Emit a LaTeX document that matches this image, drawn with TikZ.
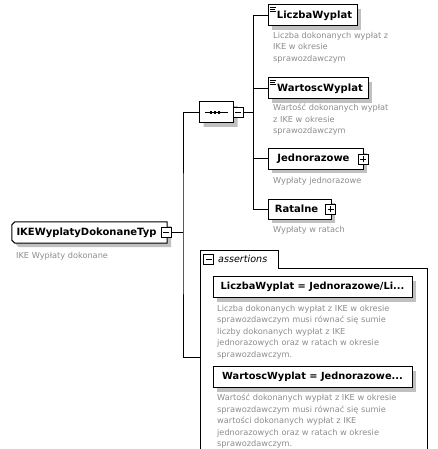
\documentclass[tikz,border=0pt]{standalone}
\usepackage{fontspec}
\setmainfont{DejaVu Sans}
\usetikzlibrary{shapes.misc,shadows,backgrounds}
\definecolor{desc}{RGB}{140,140,140}
\definecolor{shade}{RGB}{192,192,192}

\tikzset{
  label/.style={inner sep=0pt, minimum height=21pt, font=\bfseries\fontsize{10}{12}\selectfont},
  box/.style={label, draw, fill=white, line width=1pt, dshadow},
  dshadow/.style={drop shadow={shadow xshift=4pt, shadow yshift=-4pt, fill=shade, opacity=1}},
  note/.style={anchor=north west, inner sep=0pt, align=left, text=desc,
    font=\fontsize{8.2}{11.5}\selectfont},
  tog/.style={draw, fill=white, line width=0.8pt, minimum size=10pt, inner sep=0pt},
  minus/.style={tog, path picture={
    \draw ([xshift=2pt]path picture bounding box.west) -- ([xshift=-2pt]path picture bounding box.east);}},
  plus/.style={tog, path picture={
    \draw ([xshift=2pt]path picture bounding box.west) -- ([xshift=-2pt]path picture bounding box.east);
    \draw ([yshift=2pt]path picture bounding box.south) -- ([yshift=-2pt]path picture bounding box.north);}},
  simple/.style={line width=0.7pt}
}

\begin{document}
\begin{tikzpicture}[x=1pt,y=-1pt]
 \useasboundingbox (0,0) rectangle (438,449);

 % root type
 \node[label, minimum width=155pt, text width=146pt, align=left] (root) at (89.5,232.5) {IKEWyplatyDokonaneTyp};
 \begin{scope}[on background layer]
  \draw[line width=1pt, fill=white, dshadow] (root.north east) -- ([xshift=3pt]root.north west) -- ([yshift=-3pt]root.north west)
    -- ([yshift=3pt]root.south west) -- ([xshift=3pt]root.south west) -- (root.south east) -- cycle;
 \end{scope}
 \node[minus] (rootm) at (166,232.5) {};
 \node[note] (rootd) at (16,252) {IKE Wypłaty dokonane};

 % sequence
 \node[box, chamfered rectangle, chamfered rectangle sep=4pt, minimum width=34pt, minimum height=21pt] (seq) at (216.5,112.5) {};
 \draw[line width=0.8pt] ([xshift=6pt]seq.west) -- ([xshift=-6pt]seq.east);
 \foreach \x in {211,215,219}
   \fill (\x-1.2,111.3) rectangle (\x+1.2,113.7);
 \node[minus] (seqm) at (238,112.5) {};

 % children
 \node[box, minimum width=89pt] (liczba) at (312.5,15.5) {\hspace*{4pt}LiczbaWyplat};
 \node[note] (liczbad) at (273,32) {Liczba dokonanych wypłat z\\IKE w okresie\\sprawozdawczym};
 \node[box, minimum width=100pt] (wartosc) at (318,88.5) {\hspace*{4pt}WartoscWyplat};
 \node[note] (wartoscd) at (273,104) {Wartość dokonanych wypłat\\z IKE w okresie\\sprawozdawczym};
 \node[box, minimum width=95pt, minimum height=20pt] (jedn) at (315.5,159) {Jednorazowe\hspace*{4pt}};
 \node[plus] (jednp) at (363,159) {};
 \node[note] (jednd) at (273,177) {Wypłaty jednorazowe};
 \node[box, minimum width=63pt, minimum height=20pt] (ratalne) at (299.5,209) {Ratalne\hspace*{6pt}};
 \node[plus] (ratalnep) at (330.5,209) {};
 \node[note] (ratalned) at (273,226) {Wypłaty w ratach};

 % simple content marks
 \foreach \n in {liczba,wartosc}{
   \draw[simple] ([xshift=2pt,yshift=-2.5pt]\n.north west) -- ++(6,0);
   \draw[simple] ([xshift=2pt,yshift=-4.5pt]\n.north west) -- ++(5,0);
   \draw[simple] ([xshift=2pt,yshift=-6.5pt]\n.north west) -- ++(6,0);
 }

 % assertions
 \draw[line width=1pt] (200,455) -- (200,250) -- (278,250) -- (278,268) -- (427,268) -- (427,455);
 \node[minus] (asrm) at (208.5,259) {};
 \node[anchor=west, inner sep=0pt, font=\itshape\fontsize{9.6}{12}\selectfont] (asrt) at (218,259) {assertions};
 \node[box, minimum width=199pt, font=\bfseries\fontsize{9.8}{12}\selectfont] (asr1) at (312.5,287) {LiczbaWyplat = Jednorazowe/Li...};
 \node[note] (asr1d) at (217,305) {Liczba dokonanych wypłat z IKE w okresie\\sprawozdawczym musi równać się sumie\\liczby dokonanych wypłat z IKE\\jednorazowych oraz w ratach w okresie\\sprawozdawczym.};
 \node[box, minimum width=199pt, font=\bfseries\fontsize{9.8}{12}\selectfont] (asr2) at (312.5,377) {WartoscWyplat = Jednorazowe...};
 \node[note] (asr2d) at (217,394) {Wartość dokonanych wypłat z IKE w okresie\\sprawozdawczym musi równać się sumie\\wartości dokonanych wypłat z IKE\\jednorazowych oraz w ratach w okresie\\sprawozdawczym.};

 % connectors
 \coordinate (rj) at (183,232.5);
 \coordinate (asrj) at (200,357);
 \coordinate (sj) at (253,112.5);
 \draw[line width=1pt] (rootm.east) -- (rj);
 \draw[line width=1pt] (seq.west) -| (rj) |- (asrj);
 \draw[line width=1pt] (seqm.east) -- (sj);
 \foreach \n in {liczba,wartosc,jedn,ratalne}
   \draw[line width=1pt] (sj) |- (\n.west);
\end{tikzpicture}
\end{document}
